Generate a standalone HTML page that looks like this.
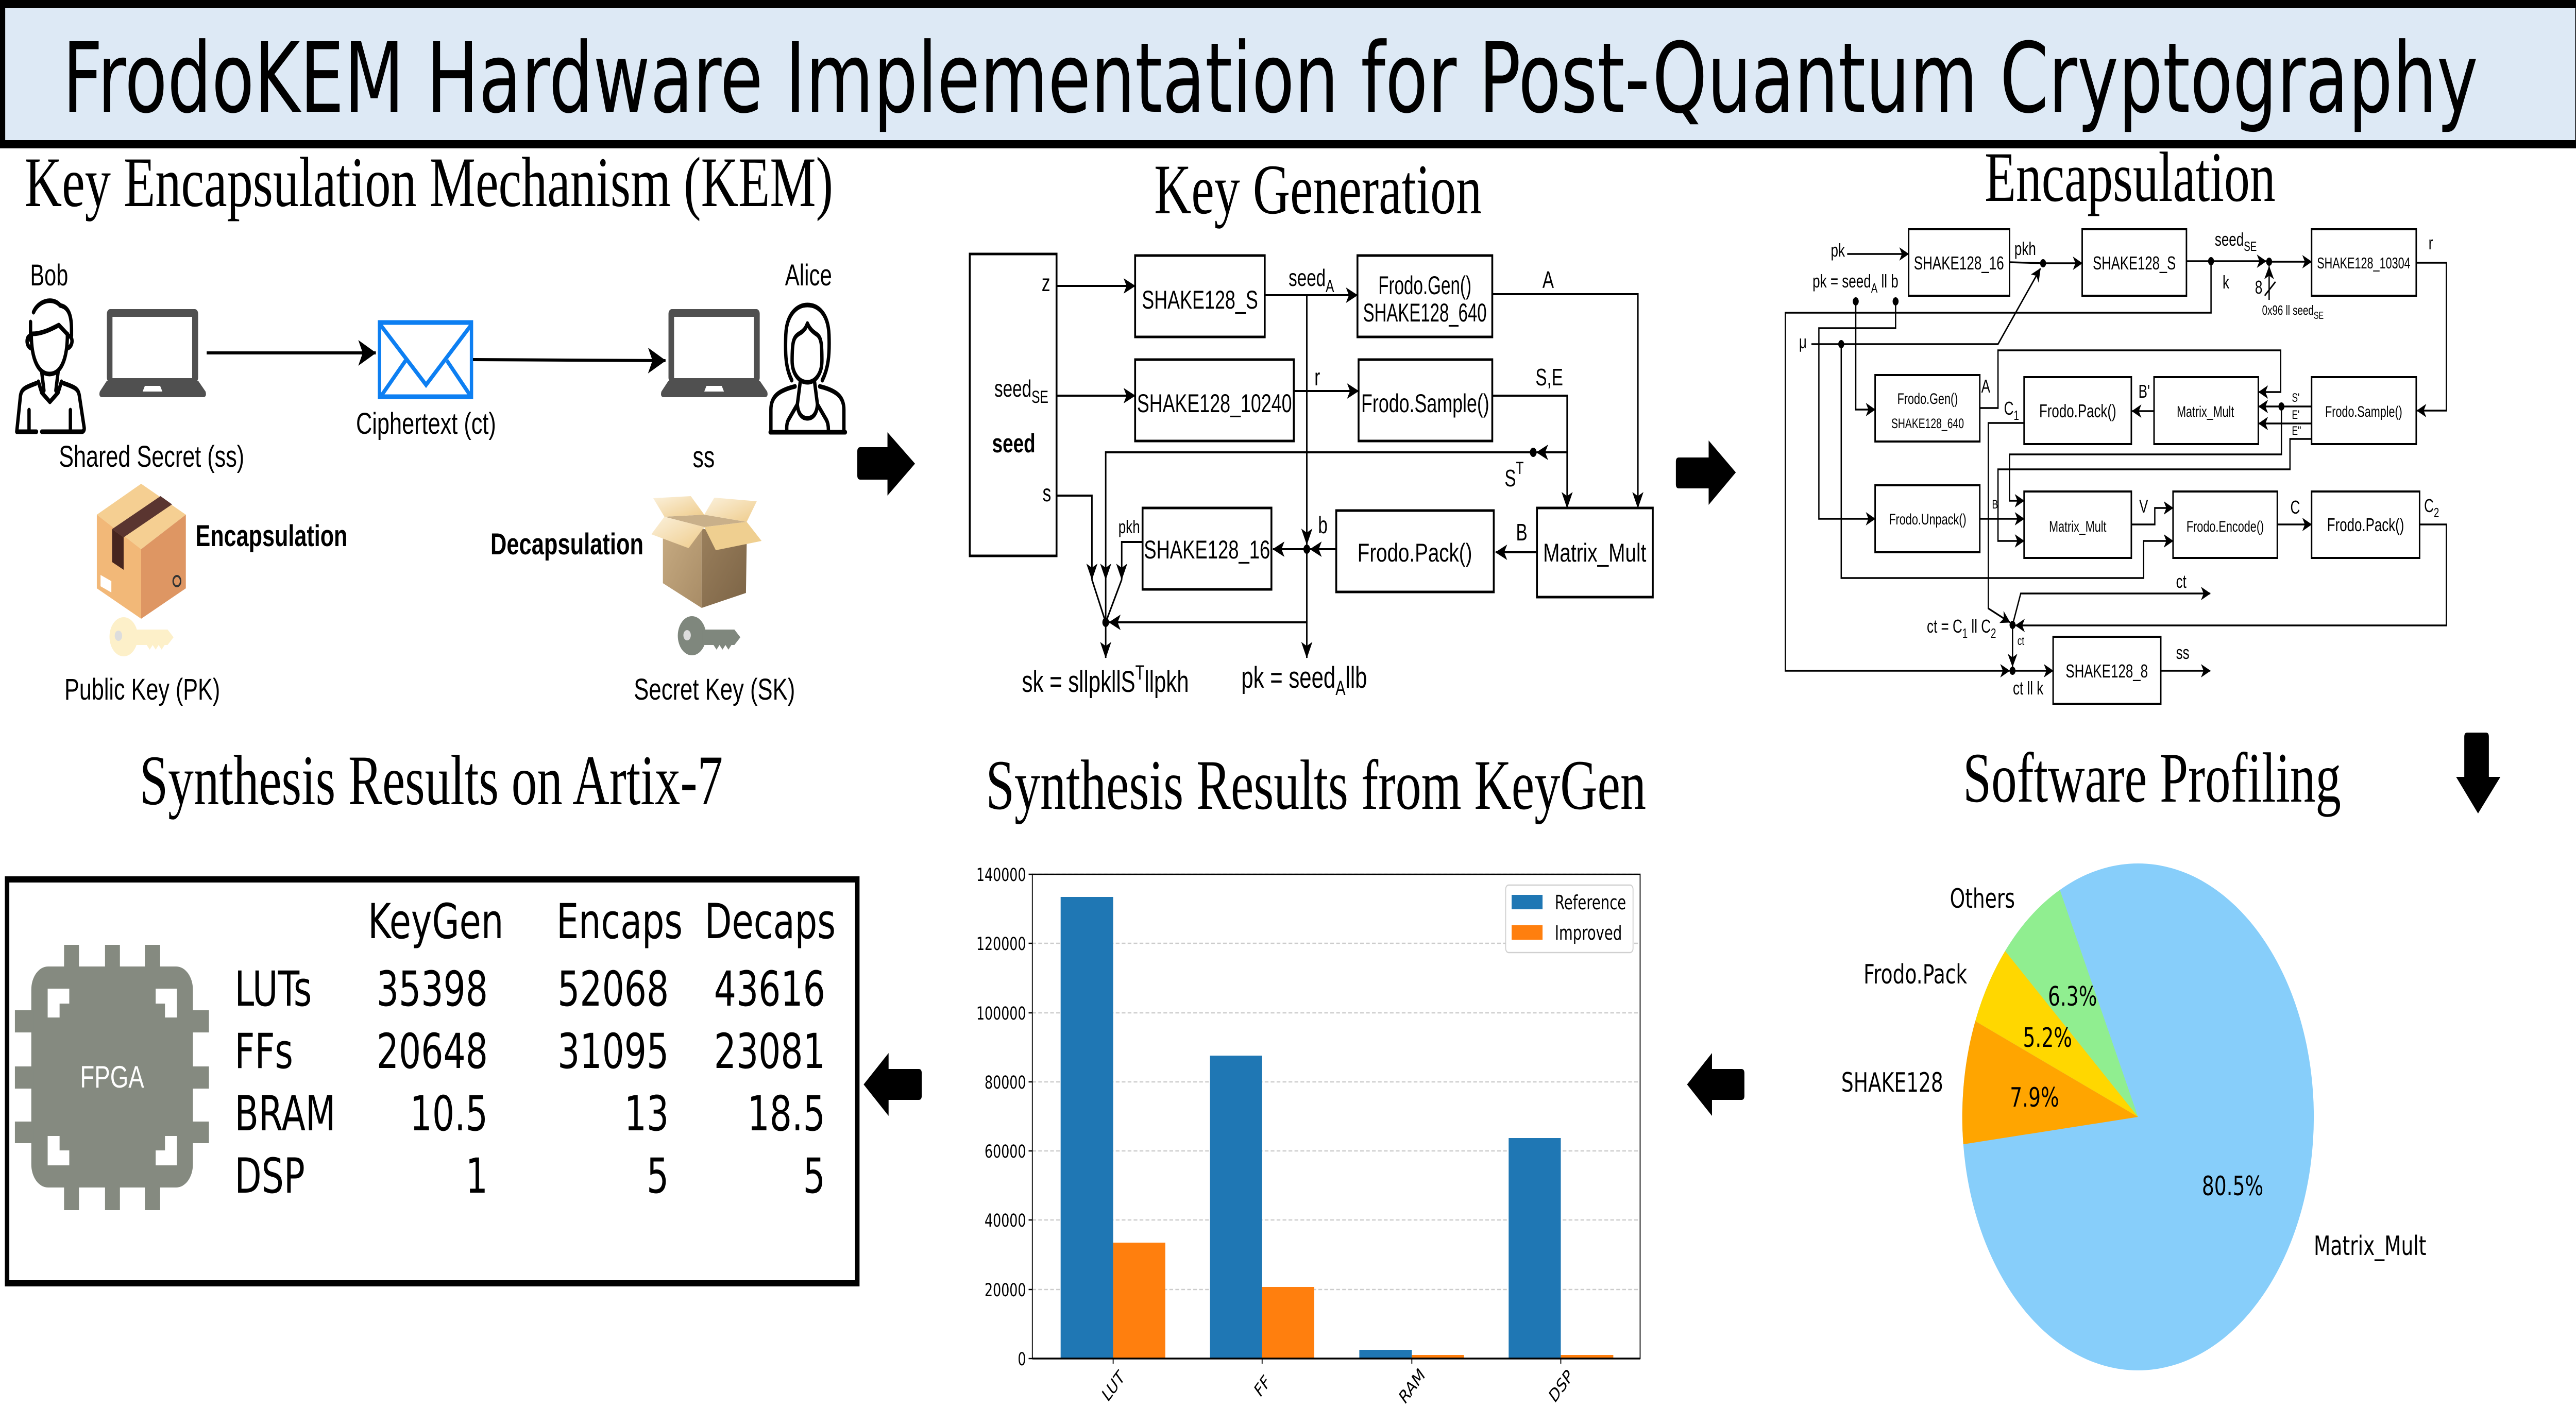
<!DOCTYPE html>
<html><head><meta charset="utf-8"><style>html,body{margin:0;padding:0;width:100%;height:100%;overflow:hidden;background:#fff}svg{display:block;width:100vw;height:100vh}</style></head>
<body>
<svg xmlns="http://www.w3.org/2000/svg" width="100%" height="100%" viewBox="0 0 6917 2766" preserveAspectRatio="none">
<defs>
<marker id="mk" viewBox="0 0 32 30" refX="31" refY="15" markerWidth="32" markerHeight="30" markerUnits="userSpaceOnUse" orient="auto"><path d="M0,0 L32,15 L0,30 L8,15 Z" fill="#000"/></marker>
<marker id="me" viewBox="0 0 26 26" refX="25" refY="13" markerWidth="26" markerHeight="26" markerUnits="userSpaceOnUse" orient="auto"><path d="M0,0 L26,13 L0,26 L7,13 Z" fill="#000"/></marker>
<marker id="mb" viewBox="0 0 48 50" refX="47" refY="25" markerWidth="48" markerHeight="50" markerUnits="userSpaceOnUse" orient="auto"><path d="M0,0 L48,25 L0,50 L12,25 Z" fill="#000"/></marker>
<linearGradient id="ob1" x1="0" y1="0" x2="1" y2="1"><stop offset="0" stop-color="#c7ab82"/><stop offset="1" stop-color="#a88c66"/></linearGradient>
<linearGradient id="ob2" x1="0" y1="0" x2="1" y2="1"><stop offset="0" stop-color="#9a7f5c"/><stop offset="1" stop-color="#7c6446"/></linearGradient>
<linearGradient id="fl" x1="0" y1="0" x2="1" y2="1"><stop offset="0" stop-color="#fbf1dc"/><stop offset="1" stop-color="#efcc8c"/></linearGradient>
</defs>

<rect x="0" y="0" width="6917" height="2766" fill="#fff"/>
<!-- Title bar -->
<rect x="0" y="0" width="6917" height="288" fill="#000"/>
<rect x="14" y="16" width="6901" height="256" fill="#dde9f5"/>
<text x="168" y="217" font-family="'DejaVu Sans',sans-serif" font-size="188" textLength="6486" lengthAdjust="spacingAndGlyphs">FrodoKEM Hardware Implementation for Post-Quantum Cryptography</text>

<!-- Section titles -->
<g font-family="'Liberation Serif',serif" font-size="138" fill="#000">
<text x="66" y="400" textLength="2171" lengthAdjust="spacingAndGlyphs">Key Encapsulation Mechanism (KEM)</text>
<text x="3099" y="414" textLength="880" lengthAdjust="spacingAndGlyphs">Key Generation</text>
<text x="5329" y="390" textLength="781" lengthAdjust="spacingAndGlyphs">Encapsulation</text>
<text x="375" y="1561" textLength="1566" lengthAdjust="spacingAndGlyphs">Synthesis Results on Artix-7</text>
<text x="2647" y="1570" textLength="1773" lengthAdjust="spacingAndGlyphs">Synthesis Results from KeyGen</text>
<text x="5271" y="1556" textLength="1015" lengthAdjust="spacingAndGlyphs">Software Profiling</text>
</g>

<!-- ================= KEM ================= -->
<g font-family="'Liberation Sans',sans-serif" font-size="58" fill="#000">
<text x="81" y="554" textLength="102" lengthAdjust="spacingAndGlyphs">Bob</text>
<text x="2108" y="554" textLength="126" lengthAdjust="spacingAndGlyphs">Alice</text>
<text x="956" y="842" textLength="376" lengthAdjust="spacingAndGlyphs">Ciphertext (ct)</text>
<text x="158" y="906" textLength="498" lengthAdjust="spacingAndGlyphs">Shared Secret (ss)</text>
<text x="1860" y="907" textLength="59" lengthAdjust="spacingAndGlyphs">ss</text>
<text x="173" y="1358" textLength="418" lengthAdjust="spacingAndGlyphs">Public Key (PK)</text>
<text x="1702" y="1358" textLength="433" lengthAdjust="spacingAndGlyphs">Secret Key (SK)</text>
<text x="525" y="1060" font-weight="bold" textLength="408" lengthAdjust="spacingAndGlyphs">Encapsulation</text>
<text x="1317" y="1076" font-weight="bold" textLength="411" lengthAdjust="spacingAndGlyphs">Decapsulation</text>
</g>

<!-- Bob -->
<g fill="none" stroke="#000" stroke-width="9" stroke-linecap="round" stroke-linejoin="round">
<path d="M84,648 C84,700 105,726 133,726 C162,726 181,700 181,648"/>
<path d="M82,660 L82,625 M90,606 C102,585 140,575 162,593 C184,596 192,612 192,640 L192,652"/>
<path d="M86,648 C110,648 132,641 158,631 L180,648"/>
<path d="M84,652 C70,650 68,672 84,676 M181,652 C197,650 198,672 181,676"/>
<path d="M112,722 L118,758 M156,722 L150,758 M103,741 L112,762 L134,780 L156,762 L165,741"/>
<path d="M98,838 L45,838 L55,768 C58,755 67,752 97,744 M171,744 C203,752 210,755 213,768 L226,830 C227,836 223,838 219,838 L112,838"/>
<path d="M78,796 L78,836 M189,796 L189,836"/>
</g>
<!-- Alice -->
<g fill="none" stroke="#000" stroke-width="9" stroke-linecap="round" stroke-linejoin="round">
<path d="M2126,738 C2110,715 2108,690 2110,650 C2112,610 2140,592 2168,592 C2198,592 2224,610 2226,650 C2228,690 2224,715 2208,738"/>
<path d="M2127,700 C2127,662 2131,655 2145,648 C2160,642 2165,635 2168,628 C2175,640 2185,645 2195,650 C2205,656 2207,668 2207,700 C2207,725 2190,742 2168,742 C2145,742 2127,725 2127,700 Z"/>
<path d="M2149,740 L2141,785 M2187,740 L2195,785 M2141,785 C2143,805 2155,812 2168,812 C2181,812 2193,805 2195,785"/>
<path d="M2070,839 L2070,795 C2070,770 2090,758 2135,750 M2201,750 C2246,758 2266,770 2266,795 L2266,839 M2068,839 L2270,839"/>
<path d="M2141,785 L2117,815 C2112,822 2112,830 2113,839 M2195,785 L2219,815 C2224,822 2225,830 2224,839"/>
</g>
<!-- Laptops -->
<g fill="#505050">
<rect x="287" y="600" width="245" height="142" rx="9"/>
<path d="M287,739 L532,739 L552,760 Q556,771 545,771 L275,771 Q264,771 268,760 Z"/>
<rect x="1795" y="600" width="245" height="142" rx="9"/>
<path d="M1795,739 L2040,739 L2060,760 Q2064,771 2053,771 L1783,771 Q1772,771 1776,760 Z"/>
</g>
<g fill="#fff">
<rect x="302" y="615" width="214" height="119"/>
<path d="M383,760 L389,749 L430,749 L436,760 Z"/>
<rect x="1810" y="615" width="214" height="119"/>
<path d="M1891,760 L1897,749 L1938,749 L1944,760 Z"/>
</g>
<!-- Envelope -->
<g fill="none" stroke="#0d7ff2" stroke-width="9">
<rect x="1019" y="626" width="247" height="144" fill="#fff"/>
<path d="M1022,631 L1144,747 L1265,631 M1022,770 L1089,700 M1265,770 L1200,700"/>
</g>
<!-- KEM arrows -->
<path d="M555,685 H1009" stroke="#000" stroke-width="6" fill="none" marker-end="url(#mb)"/>
<path d="M1270,698 L1787,700" stroke="#000" stroke-width="6" fill="none" marker-end="url(#mb)"/>
<!-- Closed box -->
<path d="M260,999 L379,939 L499,999 L379,1066 Z" fill="#f5cf92"/>
<path d="M260,999 L379,1066 L379,1201 L260,1142 Z" fill="#f2b878"/>
<path d="M379,1066 L499,999 L499,1142 L379,1201 Z" fill="#de9663"/>
<path d="M301,1027 L431,963 L462,979 L332,1043 Z" fill="#5a3530"/>
<path d="M301,1027 L332,1043 L332,1106 L301,1091 Z" fill="#47251f"/>
<path d="M270,1116 L299,1128 L299,1150 L270,1138 Z" fill="#fff"/>
<circle cx="475" cy="1128" r="10" fill="none" stroke="#333" stroke-width="4"/>
<!-- Pale key -->
<g fill="#fdf0c9">
<circle cx="332" cy="1236" r="38"/>
<path d="M360,1222 L450,1222 L466,1237 L450,1252 L442,1252 L434,1261 L426,1252 L418,1261 L410,1252 L402,1261 L394,1252 L360,1252 Z"/>
</g>
<circle cx="318" cy="1234" r="10" fill="#ddd"/>
<!-- Open box -->
<path d="M1780,1045 L1884,1025 L1884,1180 L1780,1132 Z" fill="url(#ob1)"/>
<path d="M1884,1025 L2005,1054 L2003,1151 L1884,1180 Z" fill="url(#ob2)"/>
<path d="M1784,1003 L1891,999 L2005,1013 L1891,1023 Z" fill="#c9b08a"/>
<path d="M1754,967 L1855,963 L1891,999 L1784,1003 Z" fill="url(#fl)"/>
<path d="M1918,966 L2032,973 L2005,1013 L1891,999 Z" fill="url(#fl)"/>
<path d="M1749,1037 L1784,1003 L1891,1023 L1849,1064 Z" fill="url(#fl)"/>
<path d="M1891,1023 L2005,1013 L2045,1050 L1922,1068 Z" fill="#efcf90"/>
<!-- Gray key -->
<g fill="#7f877d">
<circle cx="1858" cy="1234" r="38"/>
<path d="M1886,1222 L1972,1222 L1988,1237 L1972,1252 L1964,1252 L1956,1261 L1948,1252 L1940,1261 L1932,1252 L1924,1261 L1916,1252 L1886,1252 Z"/>
</g>
<circle cx="1845" cy="1233" r="10" fill="#ddd"/>

<!-- Big arrows -->
<g fill="#000">
<path d="M2310,868 L2383,868 L2383,839 L2457,900 L2383,962 L2383,931 L2310,931 Q2302,931 2302,923 L2302,876 Q2302,868 2310,868 Z"/>
<path d="M4508,888 L4588,888 L4588,855 L4661,917 L4588,980 L4588,948 L4508,948 Q4500,948 4500,940 L4500,896 Q4500,888 4508,888 Z"/>
<path d="M2467,2075 L2386,2075 L2386,2044 L2319,2105 L2386,2166 L2386,2135 L2467,2135 Q2475,2135 2475,2127 L2475,2083 Q2475,2075 2467,2075 Z"/>
<path d="M4676,2075 L4597,2075 L4597,2044 L4530,2105 L4597,2166 L4597,2135 L4676,2135 Q4684,2135 4684,2127 L4684,2083 Q4684,2075 4676,2075 Z"/>
<path d="M6617,1430 Q6617,1422 6625,1422 L6675,1422 Q6683,1422 6683,1430 L6683,1508 L6714,1508 L6654,1579 L6595,1508 L6617,1508 Z"/>
</g>

<!-- ================= Key Generation ================= -->
<g fill="none" stroke="#000" stroke-width="5">
<rect x="2604" y="493" width="233" height="586"/>
<rect x="3048" y="496" width="348" height="158"/>
<rect x="3645" y="496" width="362" height="158"/>
<rect x="3048" y="698" width="426" height="158"/>
<rect x="3648" y="698" width="359" height="158"/>
<rect x="3068" y="986" width="346" height="158"/>
<rect x="3588" y="991" width="423" height="158"/>
<rect x="4127" y="986" width="311" height="173"/>
</g>
<g fill="none" stroke="#000" stroke-width="4">
<path d="M2837,555 H3048" marker-end="url(#mk)"/>
<path d="M2837,768 H3048" marker-end="url(#mk)"/>
<path d="M2837,962 H2932 V1125" marker-end="url(#mk)"/>
<path d="M3396,573 H3645" marker-end="url(#mk)"/>
<path d="M3509,573 V1057" marker-end="url(#mk)"/>
<path d="M3509,1066 V1277" marker-end="url(#mk)"/>
<path d="M3474,759 H3648" marker-end="url(#mk)"/>
<path d="M4007,571 H4398 V986" marker-end="url(#mk)"/>
<path d="M4007,768 H4208 V986" marker-end="url(#mk)"/>
<path d="M4208,878 H4126" marker-end="url(#mk)"/>
<path d="M4117,878 H2969 V1125" marker-end="url(#mk)"/>
<path d="M4127,1072 H4016" marker-end="url(#mk)"/>
<path d="M3588,1066 H3518" marker-end="url(#mk)"/>
<path d="M3509,1066 H3418" marker-end="url(#mk)"/>
<path d="M3068,1052 H3012 V1125" marker-end="url(#mk)"/>
<path d="M2932,1125 L2969,1208 M2969,1125 V1208 M3012,1125 L2969,1208"/>
<path d="M3509,1208 H2978" marker-end="url(#mk)"/>
<path d="M2969,1208 V1277" marker-end="url(#mk)"/>
</g>
<g fill="#000">
<circle cx="3509" cy="1066" r="9"/>
<circle cx="4117" cy="878" r="9"/>
<circle cx="2969" cy="1208" r="9"/>
</g>
<g font-family="'Liberation Sans',sans-serif" font-size="50" fill="#000" text-anchor="middle">
<text x="3222" y="599" textLength="312" lengthAdjust="spacingAndGlyphs">SHAKE128_S</text>
<text x="3826" y="571" textLength="250" lengthAdjust="spacingAndGlyphs">Frodo.Gen()</text>
<text x="3826" y="624" textLength="332" lengthAdjust="spacingAndGlyphs">SHAKE128_640</text>
<text x="3261" y="800" textLength="416" lengthAdjust="spacingAndGlyphs">SHAKE128_10240</text>
<text x="3827" y="800" textLength="344" lengthAdjust="spacingAndGlyphs">Frodo.Sample()</text>
<text x="3241" y="1084" textLength="339" lengthAdjust="spacingAndGlyphs">SHAKE128_16</text>
<text x="3799" y="1090" textLength="308" lengthAdjust="spacingAndGlyphs">Frodo.Pack()</text>
<text x="4282" y="1090" textLength="277" lengthAdjust="spacingAndGlyphs">Matrix_Mult</text>
</g>
<g font-family="'Liberation Sans',sans-serif" font-size="46" fill="#000">
<text x="2820" y="565" text-anchor="end">z</text>
<text x="3460" y="555">seed<tspan font-size="34" dy="12">A</tspan></text>
<text x="4157" y="559" text-anchor="middle">A</text>
<text x="3537" y="748" text-anchor="middle">r</text>
<text x="4123" y="748">S,E</text>
<text x="2670" y="770">seed<tspan font-size="34" dy="12">SE</tspan></text>
<text x="2664" y="878" font-weight="bold" font-size="51">seed</text>
<text x="2811" y="973" text-anchor="middle">s</text>
<text x="4040" y="944">S<tspan font-size="34" dy="-24">T</tspan></text>
<text x="4086" y="1049" text-anchor="middle">B</text>
<text x="3552" y="1035" text-anchor="middle">b</text>
<text x="3032" y="1035" text-anchor="middle" font-size="36">pkh</text>
<text x="2744" y="1343" font-size="58">sk = sllpkllS<tspan font-size="40" dy="-24">T</tspan><tspan dy="24">llpkh</tspan></text>
<text x="3333" y="1335" font-size="58">pk = seed<tspan font-size="40" dy="14">A</tspan><tspan dy="-14">llb</tspan></text>
</g>

<!-- ================= Encapsulation ================= -->
<g fill="none" stroke="#000" stroke-width="4">
<rect x="5125" y="445" width="271" height="129"/>
<rect x="5591" y="445" width="280" height="129"/>
<rect x="6207" y="445" width="281" height="129"/>
<rect x="5035" y="728" width="281" height="129"/>
<rect x="5435" y="732" width="288" height="130"/>
<rect x="5784" y="732" width="280" height="130"/>
<rect x="6207" y="732" width="281" height="130"/>
<rect x="5035" y="942" width="281" height="130"/>
<rect x="5435" y="954" width="288" height="129"/>
<rect x="5835" y="954" width="280" height="129"/>
<rect x="6207" y="954" width="290" height="129"/>
<rect x="5513" y="1236" width="289" height="130"/>
</g>
<g fill="none" stroke="#000" stroke-width="3.5">
<path d="M4960,493 H5125" marker-end="url(#me)"/>
<path d="M5396,509 L5486,511 H5591" marker-end="url(#me)"/>
<path d="M4864,668 H5365 L5479,521" marker-end="url(#me)"/>
<path d="M4944,668 V1122 H5756 V1050 H5835" marker-end="url(#me)"/>
<path d="M4983,585 V795 H5035" marker-end="url(#me)"/>
<path d="M5090,585 V637 H4884 V1007 H5035" marker-end="url(#me)"/>
<path d="M5871,507 H6085" marker-end="url(#me)"/>
<path d="M6093,508 H6207" marker-end="url(#me)"/>
<path d="M5937,507 V607 H4794 V1302 H5396" marker-end="url(#me)"/>
<path d="M5404,1302 H5513" marker-end="url(#me)"/>
<path d="M6093,582 V517" marker-end="url(#me)"/>
<path d="M6081,574 L6110,547"/>
<path d="M6488,510 H6569 V797 H6490" marker-end="url(#me)"/>
<path d="M5316,792 H5365 V680 H6124 V761 H6065" marker-end="url(#me)"/>
<path d="M6207,789 H6065" marker-end="url(#me)"/>
<path d="M6126,789 V882 H5396 V972 H5435" marker-end="url(#me)"/>
<path d="M6207,822 H6065" marker-end="url(#me)"/>
<path d="M6207,852 H6149 V911 H5365 V1050 H5435" marker-end="url(#me)"/>
<path d="M5784,798 H5725" marker-end="url(#me)"/>
<path d="M5435,821 H5339 V1181 L5397,1208" marker-end="url(#me)"/>
<path d="M5316,1007 H5435" marker-end="url(#me)"/>
<path d="M5723,1018 H5786 V986 H5835" marker-end="url(#me)"/>
<path d="M6115,1018 H6207" marker-end="url(#me)"/>
<path d="M6497,1018 H6569 V1214 H5412" marker-end="url(#me)"/>
<path d="M5404,1213 L5426,1152 H5935" marker-end="url(#me)"/>
<path d="M5404,1213 V1294" marker-end="url(#me)"/>
<path d="M5802,1302 H5935" marker-end="url(#me)"/>
</g>
<g fill="#000">
<circle cx="5486" cy="511" r="8"/>
<circle cx="4983" cy="585" r="8"/>
<circle cx="5090" cy="585" r="8"/>
<circle cx="4944" cy="668" r="8"/>
<circle cx="5937" cy="507" r="8"/>
<circle cx="6093" cy="508" r="8"/>
<circle cx="6126" cy="789" r="8"/>
<circle cx="5404" cy="1213" r="8"/>
<circle cx="5404" cy="1302" r="8"/>
</g>
<g font-family="'Liberation Sans',sans-serif" fill="#000" text-anchor="middle">
<text x="5260" y="523" font-size="36" textLength="242" lengthAdjust="spacingAndGlyphs">SHAKE128_16</text>
<text x="5731" y="523" font-size="36" textLength="223" lengthAdjust="spacingAndGlyphs">SHAKE128_S</text>
<text x="6347" y="521" font-size="31" textLength="251" lengthAdjust="spacingAndGlyphs">SHAKE128_10304</text>
<text x="5176" y="784" font-size="30" textLength="163" lengthAdjust="spacingAndGlyphs">Frodo.Gen()</text>
<text x="5176" y="831" font-size="27" textLength="195" lengthAdjust="spacingAndGlyphs">SHAKE128_640</text>
<text x="5579" y="810" font-size="36" textLength="207" lengthAdjust="spacingAndGlyphs">Frodo.Pack()</text>
<text x="5922" y="809" font-size="30" textLength="154" lengthAdjust="spacingAndGlyphs">Matrix_Mult</text>
<text x="6347" y="809" font-size="30" textLength="207" lengthAdjust="spacingAndGlyphs">Frodo.Sample()</text>
<text x="5176" y="1018" font-size="30" textLength="208" lengthAdjust="spacingAndGlyphs">Frodo.Unpack()</text>
<text x="5579" y="1032" font-size="30" textLength="154" lengthAdjust="spacingAndGlyphs">Matrix_Mult</text>
<text x="5975" y="1032" font-size="30" textLength="208" lengthAdjust="spacingAndGlyphs">Frodo.Encode()</text>
<text x="6352" y="1031" font-size="36" textLength="207" lengthAdjust="spacingAndGlyphs">Frodo.Pack()</text>
<text x="5657" y="1315" font-size="36" textLength="221" lengthAdjust="spacingAndGlyphs">SHAKE128_8</text>
</g>
<g font-family="'Liberation Sans',sans-serif" fill="#000" font-size="36">
<text x="4935" y="498" text-anchor="middle">pk</text>
<text x="4867" y="558">pk = seed<tspan font-size="26" dy="10">A</tspan><tspan dy="-10"> ll b</tspan></text>
<text x="5409" y="495">pkh</text>
<text x="4841" y="676" text-anchor="middle">μ</text>
<text x="5332" y="762" text-anchor="middle">A</text>
<text x="5381" y="805">C<tspan font-size="26" dy="10">1</tspan></text>
<text x="5742" y="772">B'</text>
<text x="5349" y="987" font-size="24">B</text>
<text x="5756" y="995" text-anchor="middle">V</text>
<text x="5174" y="1228">ct = C<tspan font-size="26" dy="10">1</tspan><tspan dy="-10"> ll C</tspan><tspan font-size="26" dy="10">2</tspan></text>
<text x="5417" y="1252" font-size="24">ct</text>
<text x="5405" y="1348">ct ll k</text>
<text x="5947" y="477">seed<tspan font-size="26" dy="10">SE</tspan></text>
<text x="5977" y="560" text-anchor="middle">k</text>
<text x="6065" y="570" text-anchor="middle">8</text>
<text x="6074" y="611" font-size="26">0x96 ll seed<tspan font-size="20" dy="8">SE</tspan></text>
<text x="6527" y="484" text-anchor="middle">r</text>
<text x="6154" y="780" font-size="24">S'</text>
<text x="6154" y="813" font-size="24">E'</text>
<text x="6154" y="844" font-size="24">E''</text>
<text x="6163" y="997" text-anchor="middle">C</text>
<text x="6509" y="994">C<tspan font-size="26" dy="10">2</tspan></text>
<text x="5843" y="1141">ct</text>
<text x="5843" y="1279">ss</text>
</g>

<!-- ================= Artix-7 table ================= -->
<rect x="19" y="1707" width="2283" height="784" fill="#fff" stroke="#000" stroke-width="12"/>
<g fill="#858a80">
<rect x="84" y="1876" width="434" height="429" rx="45"/>
<rect x="172" y="1834" width="40" height="50"/>
<rect x="282" y="1834" width="40" height="50"/>
<rect x="389" y="1834" width="41" height="50"/>
<rect x="172" y="2297" width="40" height="52"/>
<rect x="282" y="2297" width="40" height="52"/>
<rect x="389" y="2297" width="41" height="52"/>
<rect x="40" y="1961" width="50" height="43"/>
<rect x="40" y="2070" width="50" height="43"/>
<rect x="40" y="2177" width="50" height="42"/>
<rect x="512" y="1961" width="49" height="43"/>
<rect x="512" y="2070" width="49" height="43"/>
<rect x="512" y="2177" width="49" height="42"/>
</g>
<g fill="#fff">
<path d="M128,1919 H186 V1948 H160 V1975 H128 Z"/>
<path d="M418,1919 H475 V1975 H443 V1948 H418 Z"/>
<path d="M128,2205 H160 V2233 H186 V2262 H128 Z"/>
<path d="M443,2205 H475 V2262 H418 V2233 H443 Z"/>
</g>
<text x="301" y="2111" font-family="'Liberation Sans',sans-serif" font-size="60" fill="#fff" text-anchor="middle" textLength="172" lengthAdjust="spacingAndGlyphs">FPGA</text>
<g font-family="'DejaVu Sans',sans-serif" font-size="94" fill="#000">
<text x="988" y="1821" textLength="364" lengthAdjust="spacingAndGlyphs">KeyGen</text>
<text x="1494" y="1821" textLength="339" lengthAdjust="spacingAndGlyphs">Encaps</text>
<text x="1892" y="1821" textLength="352" lengthAdjust="spacingAndGlyphs">Decaps</text>
<text x="630" y="1952">LUTs</text>
<text x="630" y="2073">FFs</text>
<text x="630" y="2194">BRAM</text>
<text x="630" y="2315">DSP</text>
<g text-anchor="end">
<text x="1310" y="1952">35398</text><text x="1796" y="1952">52068</text><text x="2216" y="1952">43616</text>
<text x="1310" y="2073">20648</text><text x="1796" y="2073">31095</text><text x="2216" y="2073">23081</text>
<text x="1310" y="2194">10.5</text><text x="1796" y="2194">13</text><text x="2216" y="2194">18.5</text>
<text x="1310" y="2315">1</text><text x="1796" y="2315">5</text><text x="2216" y="2315">5</text>
</g>
</g>

<!-- ================= Bar chart ================= -->
<g stroke="#cccccc" stroke-width="2.5" stroke-dasharray="10,6">
<path d="M2772,1697 H4404 M2772,1831 H4404 M2772,1966 H4404 M2772,2100 H4404 M2772,2234 H4404 M2772,2368 H4404 M2772,2503 H4404"/>
</g>
<rect x="2848" y="1741" width="141" height="896" fill="#1f77b4"/>
<rect x="2989" y="2412" width="140" height="225" fill="#ff7f0e"/>
<rect x="3249" y="2049" width="140" height="588" fill="#1f77b4"/>
<rect x="3389" y="2498" width="140" height="139" fill="#ff7f0e"/>
<rect x="3650" y="2620" width="141" height="17" fill="#1f77b4"/>
<rect x="3791" y="2630" width="140" height="7" fill="#ff7f0e"/>
<rect x="4051" y="2209" width="140" height="428" fill="#1f77b4"/>
<rect x="4191" y="2630" width="141" height="7" fill="#ff7f0e"/>
<rect x="2772" y="1697" width="1632" height="940" fill="none" stroke="#000" stroke-width="2.5"/>
<path d="M2772,2637 H4404" stroke="#000" stroke-width="3.5"/>
<g stroke="#000" stroke-width="2.5">
<path d="M2762,1697 H2772 M2762,1831 H2772 M2762,1966 H2772 M2762,2100 H2772 M2762,2234 H2772 M2762,2368 H2772 M2762,2503 H2772 M2762,2637 H2772"/>
<path d="M2989,2637 V2647 M3389,2637 V2647 M3791,2637 V2647 M4191,2637 V2647"/>
</g>
<g font-family="'DejaVu Sans',sans-serif" font-size="35" fill="#000" text-anchor="end">
<text x="2755" y="1710">140000</text>
<text x="2755" y="1844">120000</text>
<text x="2755" y="1979">100000</text>
<text x="2755" y="2113">80000</text>
<text x="2755" y="2247">60000</text>
<text x="2755" y="2381">40000</text>
<text x="2755" y="2516">20000</text>
<text x="2755" y="2650">0</text>
</g>
<g font-family="'DejaVu Sans',sans-serif" font-size="36" fill="#000" text-anchor="middle">
<text x="2989" y="2703" transform="rotate(-45 2989 2690)">LUT</text>
<text x="3389" y="2703" transform="rotate(-45 3389 2690)">FF</text>
<text x="3791" y="2703" transform="rotate(-45 3791 2690)">RAM</text>
<text x="4191" y="2703" transform="rotate(-45 4191 2690)">DSP</text>
</g>
<rect x="4043" y="1718" width="342" height="131" rx="8" fill="#fff" stroke="#d0d0d0" stroke-width="2.5"/>
<rect x="4059" y="1737" width="83" height="28" fill="#1f77b4"/>
<rect x="4059" y="1796" width="83" height="28" fill="#ff7f0e"/>
<g font-family="'DejaVu Sans',sans-serif" font-size="38" fill="#000">
<text x="4175" y="1765">Reference</text>
<text x="4175" y="1824">Improved</text>
</g>

<!-- ================= Pie chart ================= -->
<ellipse cx="5741" cy="2168" rx="472" ry="492" fill="#87cefa"/>
<path d="M5741,2168 L5531.1,1727.3 A472,492 0 0 0 5384.2,1845.9 Z" fill="#90ee90"/>
<path d="M5741,2168 L5384.2,1845.9 A472,492 0 0 0 5304.0,1982.1 Z" fill="#ffd700"/>
<path d="M5741,2168 L5304.0,1982.1 A472,492 0 0 0 5271.8,2221.1 Z" fill="#ffa500"/>
<g font-family="'DejaVu Sans',sans-serif" font-size="52" fill="#000" text-anchor="middle">
<text x="5323" y="1762">Others</text>
<text x="5143" y="1909">Frodo.Pack</text>
<text x="5081" y="2119">SHAKE128</text>
<text x="5565" y="1952">6.3%</text>
<text x="5498" y="2032">5.2%</text>
<text x="5463" y="2148">7.9%</text>
<text x="5995" y="2320">80.5%</text>
<text x="6364" y="2436">Matrix_Mult</text>
</g>
</svg>
</body></html>
